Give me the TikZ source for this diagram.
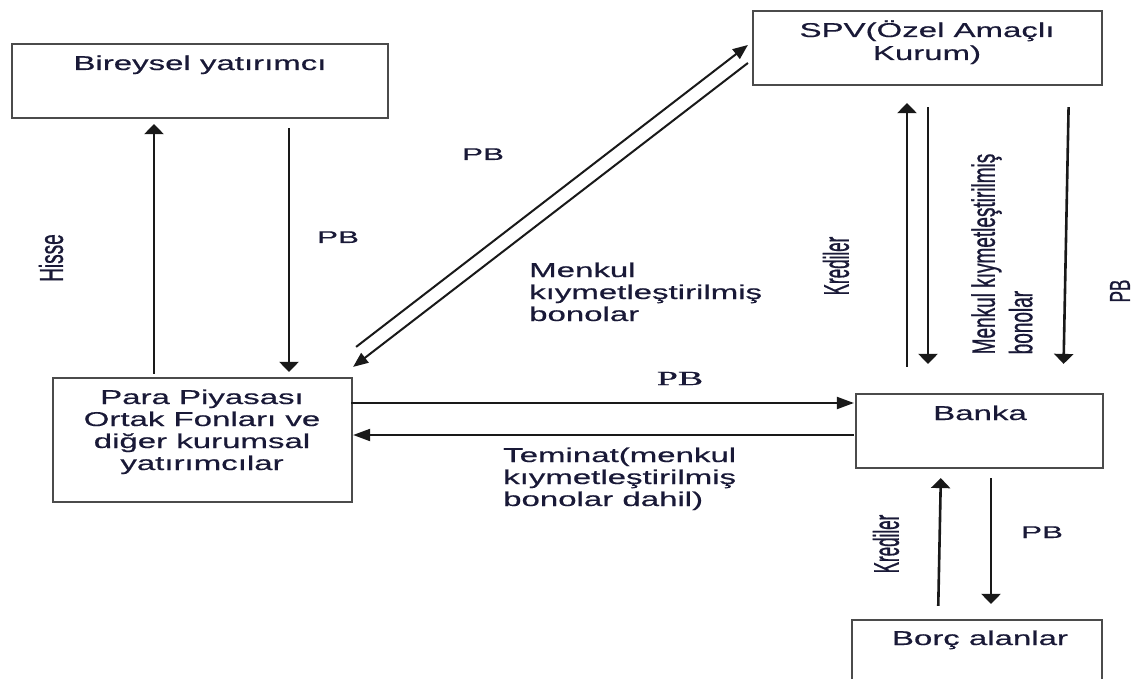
\documentclass[tikz,border=0pt]{standalone}
\usepackage{fontspec}
\setmainfont{Liberation Sans}
\newfontfamily\thick{Liberation Sans}[FakeBold=0.4]
\newfontfamily\rthick{Liberation Sans}[FakeBold=1.0]
\newfontfamily\serifpb{Liberation Serif}[FakeBold=0.4]
\usetikzlibrary{arrows.meta}
\definecolor{txt}{RGB}{25,25,55}
\definecolor{boxc}{RGB}{75,75,75}
\definecolor{arrc}{RGB}{25,25,25}
\newcommand{\wide}[2]{\scalebox{#1}[1]{#2}}
\newcommand{\rottext}[3]{\scalebox{#1}[1]{\rotatebox{90}{\fontsize{#2}{#2}\selectfont\rthick #3}}}
\begin{document}
\begin{tikzpicture}[x=1pt,y=-1pt,
  box/.style={draw=boxc,line width=2.2pt,rectangle,inner sep=0pt},
  lbl/.style={inner sep=0pt,text=txt,font=\fontsize{20}{22}\selectfont\thick},
  pbl/.style={inner sep=0pt,text=txt,font=\fontsize{17}{20}\selectfont\thick},
  rot/.style={inner sep=0pt,text=txt},
  varr/.style={draw=arrc,line width=2.6pt,-{Triangle[length=10pt,width=19pt]}},
  harr/.style={draw=arrc,line width=2pt,-{Triangle[length=17pt,width=12pt]}},
  darr/.style={draw=arrc,line width=2pt,-{Triangle[length=15pt,width=12pt]}},
 ]
\useasboundingbox (0,0) rectangle (1146,679);
\fill[white] (0,0) rectangle (1146,679);

% boxes
\node[box,minimum width=376pt,minimum height=74pt] (bir) at (200,81) {};
\node[box,minimum width=349pt,minimum height=74pt] (spv) at (927.5,48) {};
\node[box,minimum width=299pt,minimum height=124pt] (para) at (202.5,440) {};
\node[box,minimum width=247pt,minimum height=74pt] (banka) at (979.5,431) {};
\node[box,minimum width=250pt,minimum height=80pt] (borc) at (977,660) {};

% box texts
\node[lbl,anchor=base] (birT) at (200,70) {\wide{1.65}{Bireysel yatırımcı}};
\node[lbl,anchor=base] (spvT) at (927,37) {\wide{1.65}{\begin{tabular}[t]{@{}c@{}}SPV(Özel Amaçlı\\[1pt]Kurum)\end{tabular}}};
\node[lbl,anchor=base] (paraT) at (202,404) {\wide{1.65}{\begin{tabular}[t]{@{}c@{}}Para Piyasası\\Ortak Fonları ve\\diğer kurumsal\\yatırımcılar\end{tabular}}};
\node[lbl,anchor=base] (bankaT) at (980,420) {\wide{1.65}{Banka}};
\node[lbl,anchor=base] (borcT) at (980,645) {\wide{1.65}{Borç alanlar}};

% connectors
\draw[varr,shorten <=3pt,shorten >=5pt] (154,0 |- para.north) -- (154,0 |- bir.south);
\draw[varr,shorten <=9pt,shorten >=5pt] (289,0 |- bir.south) -- (289,0 |- para.north);

\draw[darr] ([shift={(3,-30)}]para.north east) -- ([shift={(-4,-3)}]spv.west);
\draw[darr] ([shift={(-4,15)}]spv.west) -- ([shift={(0,-10)}]para.north east);

\draw[harr,shorten <=-2pt,shorten >=1pt] (para.east |- 0,403) -- (banka.west |- 0,403);
\draw[harr,shorten <=1pt,shorten >=0pt] (banka.west |- 0,435) -- (para.east |- 0,435);

\draw[varr,shorten <=26pt,shorten >=17pt] (907,0 |- banka.north) -- (907,0 |- spv.south);
\draw[varr,shorten <=21pt,shorten >=29pt] (928,0 |- spv.south) -- (928,0 |- banka.north);
\draw[varr,shorten <=21pt,shorten >=29pt] (1069,0 |- spv.south) -- (1063,0 |- banka.north);

\draw[varr,shorten <=13pt,shorten >=9pt] (938,0 |- borc.north) -- (941,0 |- banka.south);
\draw[varr,shorten <=9pt,shorten >=15pt] (991,0 |- banka.south) -- (991,0 |- borc.north);

% labels
\node[rot] (hisse) at (51,258) {\rottext{1.75}{19}{Hisse}};
\node[pbl,anchor=base] (pb1) at (338,243) {\wide{1.85}{PB}};
\node[pbl,anchor=base] (pb2) at (483,160) {\wide{1.85}{PB}};
\node[lbl,anchor=base west] (menk) at (529,277) {\wide{1.65}{\begin{tabular}[t]{@{}l@{}}Menkul\\kıymetleştirilmiş\\bonolar\end{tabular}}};
\node[inner sep=0pt,text=txt,anchor=base] (pb3) at (680,385) {\wide{1.9}{\fontsize{20}{22}\serifpb PB}};
\node[lbl,anchor=base west] (tem) at (503,462) {\wide{1.65}{\begin{tabular}[t]{@{}l@{}}Teminat(menkul\\kıymetleştirilmiş\\bonolar dahil)\end{tabular}}};
\node[rot] (kred1) at (836,266) {\rottext{2.1}{17}{Krediler}};
\node[rot] (menk2) at (1006,254) {\scalebox{1.7}[1]{\rotatebox{90}{\fontsize{19}{22}\selectfont\rthick\begin{tabular}{@{}l@{}}Menkul kıymetleştirilmiş\\bonolar\end{tabular}}}};
\node[rot] (pb4) at (1120,291) {\rottext{1.7}{17}{PB}};
\node[rot] (kred2) at (886,544) {\rottext{2.1}{17}{Krediler}};
\node[pbl,anchor=base] (pb5) at (1042,538) {\wide{1.85}{PB}};
\end{tikzpicture}
\end{document}
